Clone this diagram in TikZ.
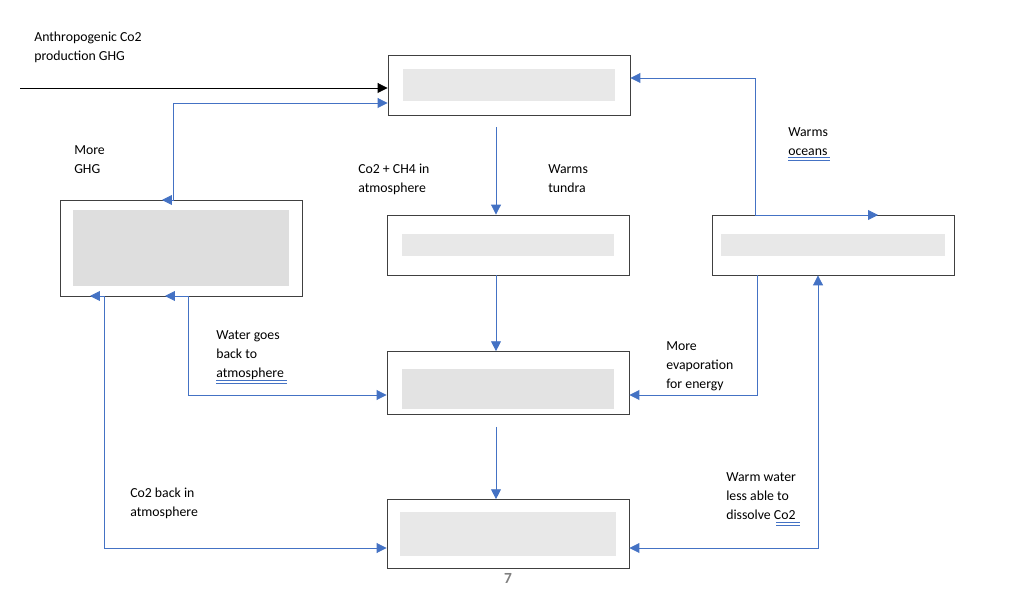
\documentclass[tikz,border=0pt]{standalone}
\usepackage{fontspec}
\setmainfont{Carlito}
\usetikzlibrary{arrows.meta, positioning}
\definecolor{linkblue}{HTML}{4472C4}
\begin{document}
\begin{tikzpicture}[x=0.025cm, y=-0.025cm,
  % boxes with hidden text
  box/.style={draw=black!75, line width=0.6pt, minimum width=6.05cm, minimum height=1.5cm, inner sep=0pt},
  % blurred fill inside a box
  blur/.style={fill=black!9, draw=none, minimum width=5.3cm, minimum height=0.8cm},
  % blue connectors
  link/.style={draw=linkblue, line width=0.6pt, -{Triangle[length=7pt, width=7pt]}},
  both/.style={link, {Triangle[length=7pt, width=7pt]}-{Triangle[length=7pt, width=7pt]}},
  % labels
  note/.style={font=\fontsize{9.8}{13.5}\selectfont, align=left, anchor=north west, inner sep=0pt},
  uline/.style={draw=linkblue, line width=0.6pt}
  ]
  \useasboundingbox (0,0) rectangle (1024,615);

  % Boxes
  \node[box] (top) at (509,85) {};
  \node[box, minimum height=2.4cm] (left) at (181,248) {};
  \node[box] (mid) at (508,245) {};
  \node[box] (right) at (833,245) {};
  \node[box, minimum height=1.57cm] (centre) at (508,383) {};
  \node[box, minimum height=1.72cm] (bottom) at (508,534) {};

  \node[blur] at (top) {};
  \node[blur, fill=black!13, minimum width=5.4cm, minimum height=1.9cm] at (left) {};
  \node[blur, minimum height=0.55cm] at (mid) {};
  \node[blur, minimum width=5.6cm, minimum height=0.55cm] at (right) {};
  \node[blur, fill=black!11, minimum height=1cm] at ([yshift=-0.15cm]centre) {};
  \node[blur, minimum width=5.4cm, minimum height=1.1cm] at (bottom) {};

  % Connectors
  \coordinate (start) at (20,88);
  \draw[-{Triangle[length=7pt, width=7pt]}, line width=0.6pt] (start) -- (top.west |- start);
  \draw[both] (162,200) -- (173,200) |- (top.west |- 0,103);
  \draw[link] ([yshift=-0.3cm]top.south -| 496,0) -- (mid.north -| 496,0);
  \draw[link] (755,215) |- (top.east |- 0,78);
  \draw[link] (755,215) -- (878,215);
  \draw[link] (mid.south -| 496,0) -- (centre.north -| 496,0);
  \draw[link] (right.south -| 757,0) |- (centre.east |- 0,395);
  \draw[both] (165,296) -- (188,296) |- (centre.west |- 0,395);
  \draw[both] (90,296) -- (104,296) |- (bottom.west |- 0,548);
  \draw[link] ([yshift=-0.3cm]centre.south -| 496,0) -- (bottom.north -| 496,0);
  \draw[both] (bottom.east |- 0,548) -| (right.south -| 818,0);

  % Labels
  \node[note] (lblAnthro) at (34,32) {Anthropogenic Co2\\production GHG};
  \node[note] (lblGhg) at (74,145) {More\\GHG};
  \node[note] (lblCo2) at (358,164) {Co2 + CH4 in\\atmosphere};
  \node[note] (lblTundra) at (548,164) {Warms\\tundra};
  \node[note] (lblOceans) at (788,127) {Warms\\oceans};
  \node[note] (lblWater) at (216,330) {Water goes\\back to\\atmosphere};
  \node[note] (lblEvap) at (666,341) {More\\evaporation\\for energy};
  \node[note] (lblBack) at (130,488) {Co2 back in\\atmosphere};
  \node[note] (lblWarm) at (726,472) {Warm water\\less able to\\dissolve Co2};
  \node[font=\fontsize{11}{13}\selectfont\bfseries, text=black!50] (page) at (508,578) {7};

  % spell-check underlines
  \foreach \ux/\uy/\uw in {788/157/42, 216/380/71, 776/522/24} {
    \draw[uline] (\ux,\uy) -- ++(\uw,0);
    \draw[uline] (\ux,\uy+3) -- ++(\uw,0);
  }
\end{tikzpicture}
\end{document}
